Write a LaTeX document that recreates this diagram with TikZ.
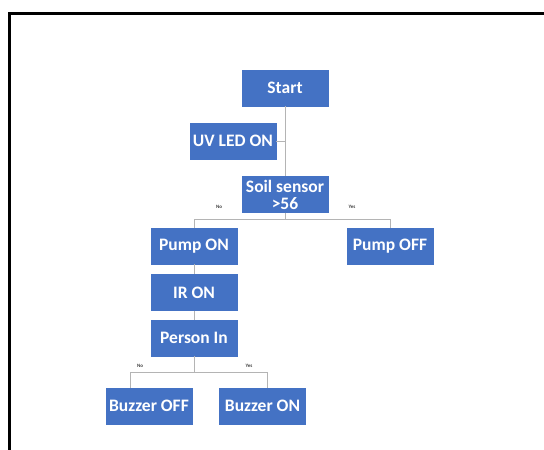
\documentclass[tikz,border=0pt]{standalone}
\usepackage{fontspec}
\setmainfont{Carlito}
\definecolor{boxblue}{HTML}{4472C4}
\definecolor{connGray}{HTML}{B4B4B4}
\begin{document}
\begin{tikzpicture}[x=1pt,y=-1pt,
  box/.style={draw=boxblue, fill=boxblue, text=white, minimum width=86pt, minimum height=36pt,
    inner sep=1pt, align=center, font=\fontsize{17.5}{17}\selectfont\bfseries},
  conn/.style={draw=connGray, line width=1pt},
  lbl/.style={font=\fontsize{5}{6}\selectfont\bfseries, text=black!75, inner sep=0pt}]
\useasboundingbox (0,0) rectangle (544,450);
\fill[white] (0,0) rectangle (544,450);
\draw[line width=3pt, black] (9.5,451) -- (9.5,13.5) -- (545,13.5);

\node[box] (start) at (285,88) {Start};
\node[box] (uv) at (233,141) {UV LED ON};
\node[box] (soil) at (285,194.5) {Soil sensor\\>56};
\node[box] (pon) at (194,246) {Pump ON};
\node[box] (poff) at (390,246.5) {Pump OFF};
\node[box] (ir) at (194,292.5) {IR ON};
\node[box] (person) at (194,338) {Person In};
\node[box] (boff) at (149,406) {Buzzer OFF};
\node[box] (bon) at (262.5,406) {Buzzer ON};

\draw[conn] (start) -- (soil);
\draw[conn] (uv.east) -- (uv.east -| start.south);
\draw[conn] (soil.south) -- ++(0,6.5) -| (pon.north);
\draw[conn] (soil.south) -- ++(0,6.5) -| (poff.north);
\draw[conn] (pon) -- (ir);
\draw[conn] (ir) -- (person);
\draw[conn] (person.south) -- ++(0,16) -| ([xshift=-19pt]boff.north);
\draw[conn] (person.south) -- ++(0,16) -| ([xshift=4.5pt]bon.north);

\node[lbl] (no1) at (219,207) {No};
\node[lbl] (yes1) at (352,207) {Yes};
\node[lbl] (no2) at (140,366) {No};
\node[lbl] (yes2) at (249,366) {Yes};
\end{tikzpicture}
\end{document}
